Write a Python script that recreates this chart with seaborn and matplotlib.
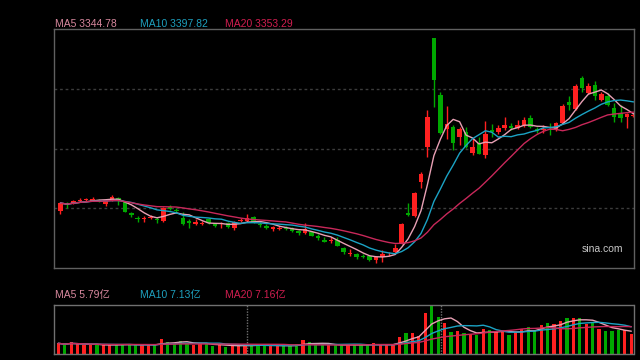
import numpy as np
import pandas as pd
import seaborn as sns
import matplotlib
matplotlib.use('Agg')
import matplotlib.pyplot as plt

# 日K 数据 (90 根)
open_ = [2907, 2938, 2942, 2953, 2956, 2953, 2956, 2938, 2956, 2964,
         2947, 2896, 2876, 2871, 2876, 2871, 2862, 2925, 2913, 2876,
         2862, 2851, 2851, 2871, 2847, 2847, 2854, 2831, 2862, 2862,
         2880, 2849, 2840, 2829, 2829, 2831, 2831, 2816, 2809, 2814,
         2794, 2776, 2774, 2778, 2743, 2716, 2716, 2707, 2707, 2690,
         2703, 2714, 2725, 2765, 2898, 2885, 3035, 3191, 3674, 3421,
         3271, 3279, 3236, 3257, 3164, 3208, 3155, 3266, 3257, 3275,
         3284, 3275, 3288, 3319, 3271, 3266, 3271, 3266, 3297, 3390,
         3359, 3497, 3430, 3466, 3399, 3417, 3364, 3341, 3324, 3330]
close = [2942, 2933, 2949, 2956, 2958, 2962, 2951, 2956, 2969, 2956,
         2902, 2889, 2871, 2876, 2880, 2867, 2920, 2916, 2909, 2849,
         2854, 2856, 2854, 2854, 2842, 2851, 2836, 2858, 2867, 2876,
         2856, 2845, 2831, 2834, 2831, 2827, 2818, 2811, 2827, 2796,
         2789, 2771, 2778, 2752, 2725, 2721, 2703, 2703, 2690, 2703,
         2716, 2718, 2743, 2849, 2891, 2987, 3071, 3324, 3488, 3253,
         3293, 3208, 3271, 3191, 3191, 3160, 3248, 3257, 3275, 3288,
         3275, 3288, 3310, 3279, 3262, 3271, 3264, 3297, 3373, 3379,
         3461, 3452, 3461, 3417, 3426, 3377, 3324, 3319, 3337, 3333]
high = [2947, 2947, 2956, 2964, 2964, 2969, 2960, 2960, 2978, 2969,
        2951, 2902, 2885, 2885, 2889, 2880, 2925, 2933, 2920, 2902,
        2871, 2871, 2862, 2876, 2854, 2858, 2858, 2862, 2876, 2893,
        2885, 2858, 2849, 2840, 2840, 2840, 2836, 2823, 2854, 2818,
        2805, 2791, 2791, 2791, 2747, 2738, 2721, 2716, 2712, 2707,
        2734, 2725, 2760, 2854, 2942, 2991, 3080, 3355, 3674, 3435,
        3373, 3288, 3279, 3279, 3231, 3236, 3306, 3293, 3288, 3324,
        3297, 3310, 3324, 3333, 3279, 3288, 3297, 3302, 3381, 3417,
        3470, 3506, 3475, 3483, 3435, 3430, 3386, 3377, 3341, 3341]
low = [2893, 2920, 2938, 2947, 2951, 2951, 2947, 2929, 2951, 2933,
       2902, 2880, 2858, 2858, 2871, 2854, 2858, 2911, 2898, 2845,
       2831, 2845, 2845, 2849, 2836, 2831, 2831, 2823, 2858, 2858,
       2854, 2836, 2827, 2818, 2823, 2823, 2814, 2800, 2805, 2796,
       2778, 2769, 2765, 2752, 2716, 2707, 2694, 2698, 2685, 2676,
       2681, 2707, 2721, 2760, 2885, 2880, 3009, 3146, 3368, 3248,
       3227, 3177, 3200, 3186, 3155, 3160, 3142, 3236, 3248, 3266,
       3266, 3271, 3279, 3275, 3253, 3253, 3244, 3262, 3293, 3355,
       3355, 3435, 3426, 3399, 3395, 3373, 3302, 3302, 3275, 3324]
# 成交量 (亿)
volume = [2.82, 2.38, 3.17, 2.56, 2.38, 2.38, 2.38, 2.38, 2.38, 2.38,
          2.64, 2.56, 2.30, 2.38, 2.38, 2.38, 3.96, 3.17, 2.82, 3.43,
          2.82, 2.38, 2.82, 2.64, 2.11, 2.38, 1.85, 2.30, 2.30, 2.30,
          2.30, 2.30, 2.30, 2.30, 2.11, 2.11, 2.11, 2.56, 3.70, 3.17,
          2.30, 2.38, 2.38, 2.38, 2.38, 2.38, 2.38, 2.38, 2.38, 2.90,
          2.38, 2.38, 2.38, 4.49, 5.54, 5.54, 4.75, 10.82, 12.94, 9.77,
          8.18, 5.81, 6.07, 5.54, 5.28, 5.02, 6.60, 6.34, 5.81, 6.07,
          5.02, 5.81, 6.60, 7.13, 6.07, 7.66, 8.18, 7.92, 8.71, 9.50,
          9.50, 9.50, 7.92, 8.18, 6.60, 6.07, 6.07, 6.34, 6.34, 5.28]
price_ma = {'MA5': '3344.78', 'MA10': '3397.82', 'MA20': '3353.29'}
vol_ma = {'MA5': '5.79亿', 'MA10': '7.13亿', 'MA20': '7.16亿'}

RED = '#ff2020'
GREEN = '#00a800'
LINE_C = {5: '#e8a0b4', 10: '#1ba3c4', 20: '#c8285a'}
TEXT_C = {'MA5': '#d8889e', 'MA10': '#1ea0be', 'MA20': '#d21e50'}

sns.set_theme(style='dark', rc={'axes.facecolor': 'black', 'figure.facecolor': 'black'})
plt.rcParams['font.family'] = ['Liberation Sans', 'Noto Sans CJK SC']

df = pd.DataFrame({'open': open_, 'close': close, 'high': high, 'low': low, 'vol': volume})
df['x'] = np.arange(len(df))
for n in (5, 10, 20):
    df[f'ma{n}'] = df['close'].rolling(n, min_periods=1).mean()
    df[f'vma{n}'] = df['vol'].rolling(n, min_periods=1).mean()
up = df['close'] >= df['open']
cols = np.where(up, RED, GREEN)

fig = plt.figure(figsize=(6.4, 3.6), dpi=100)
ax = fig.add_axes([54/640, 1-268/360, 580/640, 239/360])
axv = fig.add_axes([54/640, 1-354/360, 580/640, 49/360])

# K线
ax.vlines(df['x'], df['low'], df['high'], colors=cols, lw=1, zorder=2)
body = np.maximum((df['close'] - df['open']).abs(), 3)
ax.bar(df['x'], body, bottom=np.minimum(df['open'], df['close']), width=0.7,
       color=cols, linewidth=0, zorder=3)
for n in (5, 10, 20):
    sns.lineplot(x=df['x'], y=df[f'ma{n}'], ax=ax, color=LINE_C[n], lw=1, legend=False, zorder=4)
ax.set_xlim(-1.0, 89.08)
ax.set_ylim(2654, 3714)
ax.set_yticks([2654 + 265*k for k in (1, 2, 3)])
ax.grid(axis='y', color='#3c3c3c', ls=(0, (2, 2)), lw=1)
ax.grid(axis='x', visible=False)
ax.set_xticks([])
ax.tick_params(length=0, labelleft=False)
ax.set_xlabel('')
ax.set_ylabel('')
for s in ax.spines.values():
    s.set_color('#606060')
    s.set_linewidth(1)

# 成交量
axv.bar(df['x'], df['vol'], width=0.5, color=cols, linewidth=0, zorder=2)
for n in (5, 10, 20):
    sns.lineplot(x=df['x'], y=df[f'vma{n}'], ax=axv, color=LINE_C[n], lw=1, legend=False, zorder=3)
axv.set_xlim(-0.67, 89.42)
axv.set_ylim(0, max(volume))
axv.set_xticks([])
axv.set_yticks([])
axv.grid(False)
axv.set_xlabel('')
axv.set_ylabel('')
for k, s in axv.spines.items():
    s.set_color('#707070')
    s.set_linewidth(1)
    if k in ('top', 'bottom'):
        s.set_linestyle((0, (1, 1)))
for f in (1/3, 2/3):
    axv.plot([f, f], [0, 1], transform=axv.transAxes, color='#707070', lw=1, ls=(0, (1, 1)))

fs = 7.5
for (name, val), xp in zip(price_ma.items(), (55, 140, 225)):
    fig.text(xp/640, 1-24/360, f'{name} {val}', color=TEXT_C[name], fontsize=fs, va='center')
for (name, val), xp in zip(vol_ma.items(), (55, 140, 225)):
    fig.text(xp/640, 1-295/360, f'{name} {val}', color=TEXT_C[name], fontsize=fs, va='center')
fig.text(623/640, 1-249/360, 'sina.com', color='#c8c8c8', fontsize=fs, va='center', ha='right')

fig.savefig('out.png', dpi=100, facecolor='black')
